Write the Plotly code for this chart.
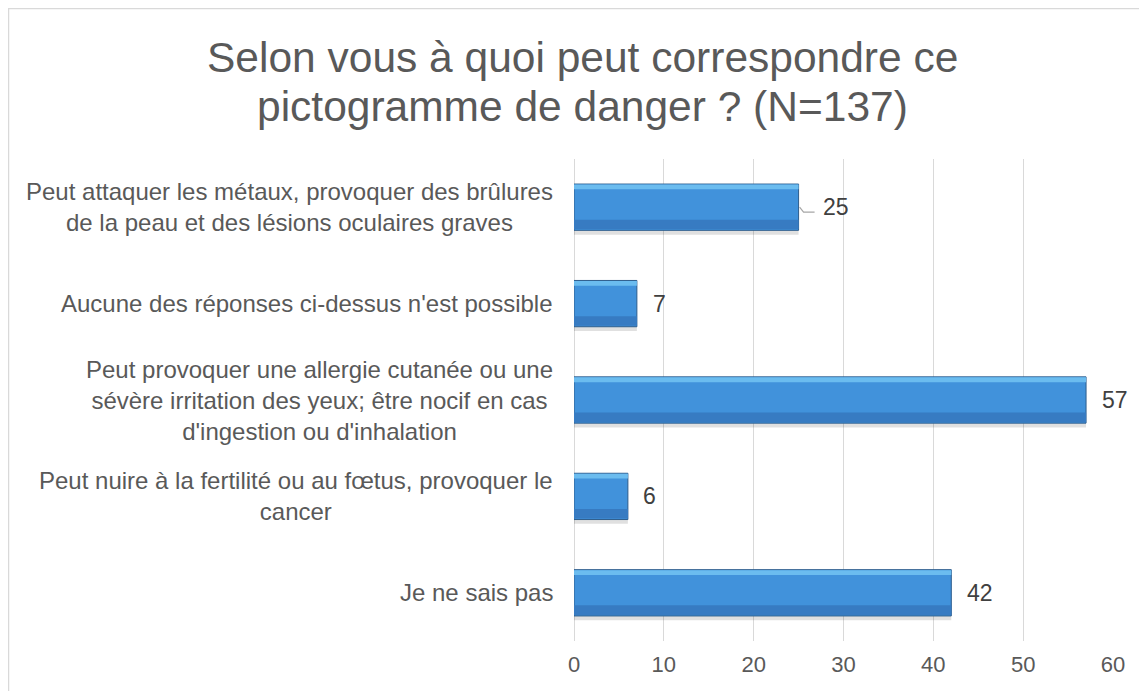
import plotly.graph_objects as go

categories = [
    "Peut attaquer les métaux, provoquer des brûlures<br>de la peau et des lésions oculaires graves",
    "Aucune des réponses ci-dessus n'est possible",
    "Peut provoquer une allergie cutanée ou une<br>sévère irritation des yeux; être nocif en cas<br>d'ingestion ou d'inhalation",
    "Peut nuire à la fertilité ou au fœtus, provoquer le<br>cancer",
    "Je ne sais pas",
]
values = [25, 7, 57, 6, 42]
title_lines = ["Selon vous à quoi peut correspondre ce", "pictogramme de danger ? (N=137)"]
x_ticks = [0, 10, 20, 30, 40, 50, 60]

# style-only offsets for value labels (pixels right of bar end)
label_shift = [22, 14, 14, 13, 14]

FONT = "Liberation Sans, Arial, sans-serif"
OFF = 8  # page offset of the figure inside the browser window
W, H = 1147 - OFF, 691 - OFF
L, R, T, B = 574 - OFF, 1113 - OFF, 159 - OFF, 641 - OFF
pw, ph = R - L, B - T

def px_x(p):
    return (p - OFF - L) / pw

def px_y(p):
    return (B - (p - OFF)) / ph

fig = go.Figure()
# soft drop shadow
fig.add_trace(go.Bar(
    x=values, y=categories, orientation="h", width=0.5, offset=-0.215,
    marker=dict(color="rgba(0,0,0,0.12)", line=dict(width=0)),
    hoverinfo="skip", showlegend=False,
))
# main bar
fig.add_trace(go.Bar(
    x=values, y=categories, orientation="h", width=0.48, offset=-0.24,
    marker=dict(color="#4192db", line=dict(color="#2e5d8c", width=1)),
    hoverinfo="skip", showlegend=False,
))
# darker lower part
fig.add_trace(go.Bar(
    x=values, y=categories, orientation="h", width=0.1, offset=0.13,
    marker=dict(color="#377bc2", line=dict(width=0)),
    hoverinfo="skip", showlegend=False,
))
# light upper part
fig.add_trace(go.Bar(
    x=values, y=categories, orientation="h", width=0.05, offset=-0.235,
    marker=dict(color="#6bbcef", line=dict(width=0)),
    hoverinfo="skip", showlegend=False,
))

annotations = []
for c, v, s in zip(categories, values, label_shift):
    annotations.append(dict(
        x=0, xref="paper", y=c, yref="y", text=c, showarrow=False,
        xanchor="right", yanchor="middle", align="center", xshift=-19,
        font=dict(family=FONT, size=24, color="#595959"),
    ))
    annotations.append(dict(
        x=v, xref="x", y=c, yref="y", text=str(v), showarrow=False,
        xanchor="left", yanchor="middle", xshift=s,
        font=dict(family=FONT, size=23, color="#404040"),
    ))
for line, py in zip(title_lines, [57, 107]):
    annotations.append(dict(
        x=px_x(582), xref="paper", y=px_y(py), yref="paper", text=line,
        showarrow=False, xanchor="center", yanchor="middle",
        font=dict(family=FONT, size=42.5, color="#595959"),
    ))

shapes = [
    dict(type="rect", xref="paper", yref="paper",
         x0=px_x(8.5), x1=px_x(1170), y0=px_y(8.5), y1=px_y(720),
         line=dict(color="#d9d9d9", width=1.5), fillcolor="rgba(0,0,0,0)", layer="below"),
    # leader line for the moved label of the first bar
    dict(type="path", xref="x", yref="y", xsizemode="pixel", ysizemode="pixel",
         xanchor=values[0], yanchor=categories[0],
         path="M 1 0 L 5 -5 L 16 -5",
         line=dict(color="#a6a6a6", width=1.2)),
]

fig.update_layout(
    width=W, height=H,
    margin=dict(l=L, r=W - R, t=T, b=H - B, pad=0),
    paper_bgcolor="white", plot_bgcolor="white",
    barmode="overlay",
    annotations=annotations, shapes=shapes,
    xaxis=dict(range=[0, 60], tickvals=x_ticks, showgrid=True, gridcolor="#d9d9d9", gridwidth=1,
               zeroline=True, zerolinecolor="#d9d9d9", zerolinewidth=1, showline=False,
               ticks="", ticklabelstandoff=8,
               tickfont=dict(family=FONT, size=22, color="#595959")),
    yaxis=dict(type="category", autorange="reversed", showticklabels=False,
               showgrid=False, zeroline=False, showline=False, ticks=""),
    showlegend=False,
)

fig.write_html("out.html")
